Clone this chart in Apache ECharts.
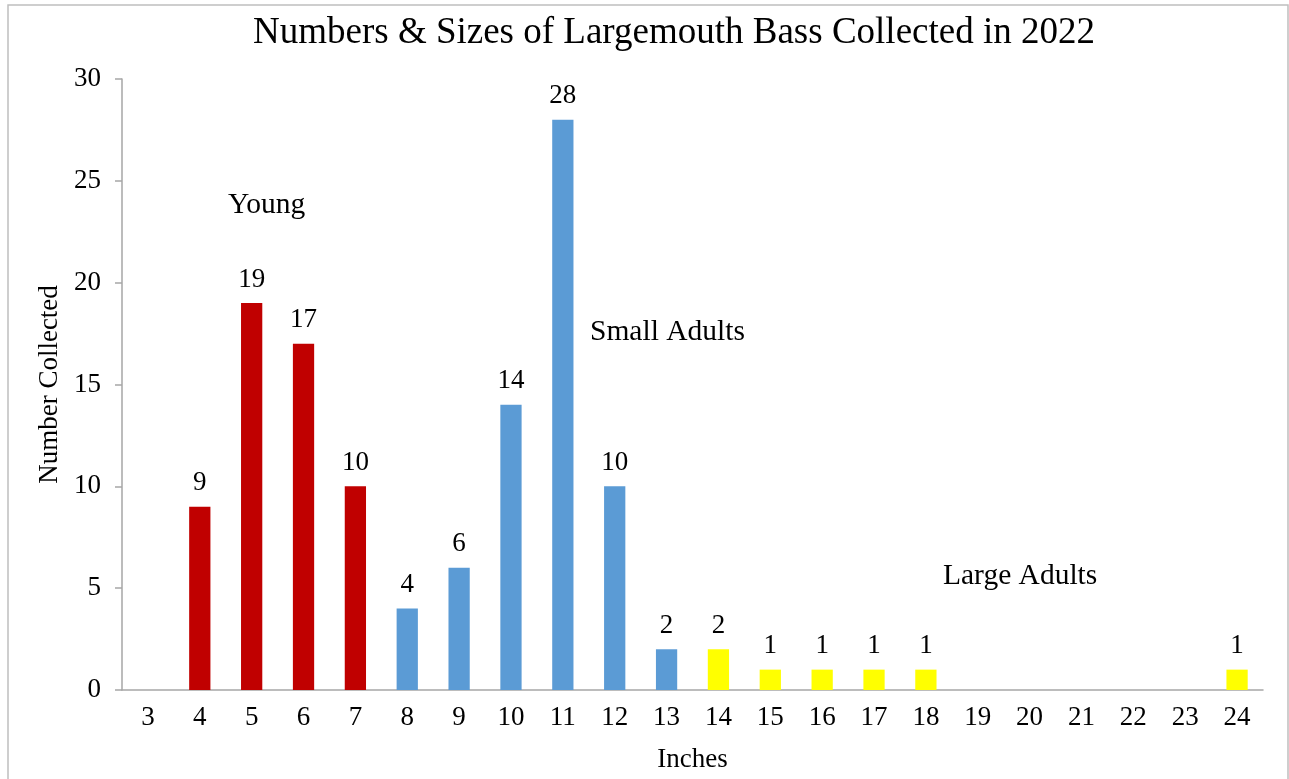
<!DOCTYPE html>
<html>
<head>
<meta charset="utf-8">
<script src="https://cdn.jsdelivr.net/npm/echarts@6/dist/echarts.min.js"></script>
<style>
  html, body { margin: 0; padding: 0; background: #fff; }
  #chart { width: 1289px; height: 779px; }
</style>
</head>
<body>
<div id="chart"></div>
<script>
const inches = ['3', '4', '5', '6', '7', '8', '9', '10', '11', '12', '13', '14', '15', '16', '17', '18', '19', '20', '21', '22', '23', '24']
const counts = [0, 9, 19, 17, 10, 4, 6, 14, 28, 10, 2, 2, 1, 1, 1, 1, 0, 0, 0, 0, 0, 1]
// size group per inch class: young, small adults, large adults
const groups = ['y', 'y', 'y', 'y', 'y', 's', 's', 's', 's', 's', 's', 'l', 'l', 'l', 'l', 'l', 'l', 'l', 'l', 'l', 'l', 'l']
const groupColor = { y: '#C00000', s: '#5B9BD5', l: '#FFFF00' }

const serif = '"Liberation Serif", "Times New Roman", serif'
const axisGray = '#a6a6a6'

const chart = echarts.init(document.getElementById('chart'))

chart.setOption({
  animation: false,
  textStyle: { fontFamily: serif, color: '#000' },
  title: {
    text: 'Numbers & Sizes of Largemouth Bass Collected in 2022',
    left: 248,
    top: 10,
    textStyle: { fontFamily: serif, fontSize: 37, fontWeight: 'normal', color: '#000' }
  },
  grid: { left: 122, right: 26, top: 79, bottom: 89 },
  xAxis: {
    type: 'category',
    data: inches,
    name: 'Inches',
    nameLocation: 'middle',
    nameGap: 56,
    nameTextStyle: { fontFamily: serif, fontSize: 27, color: '#000' },
    axisLine: { lineStyle: { color: axisGray, width: 1.5 } },
    axisTick: { length: 8, lineStyle: { color: axisGray, width: 1.5 } },
    axisLabel: { fontFamily: serif, fontSize: 27, color: '#000', margin: 14 }
  },
  yAxis: {
    type: 'value',
    min: 0,
    max: 30,
    interval: 5,
    name: 'Number Collected',
    nameLocation: 'middle',
    nameGap: 57,
    nameTextStyle: { fontFamily: serif, fontSize: 27, color: '#000' },
    axisLine: { show: true, lineStyle: { color: axisGray, width: 1.5 } },
    axisTick: { show: true, length: 7, lineStyle: { color: axisGray, width: 1.5 } },
    splitLine: { show: false },
    axisLabel: { fontFamily: serif, fontSize: 27, color: '#000', margin: 21 }
  },
  series: [{
    type: 'bar',
    barWidth: '41%',
    data: counts.map((v, i) => ({ value: v, itemStyle: { color: groupColor[groups[i]] } })),
    label: {
      show: true,
      position: 'top',
      distance: 10,
      fontFamily: serif,
      fontSize: 27,
      color: '#000',
      formatter: p => (p.value ? p.value : '')
    }
  }],
  graphic: [
    {
      type: 'rect',
      silent: true,
      shape: { x: 8, y: 5, width: 1280, height: 790 },
      style: { fill: 'none', stroke: '#bfbfbf', lineWidth: 1.5 }
    },
    {
      type: 'text', left: 228, top: 190,
      style: { text: 'Young', font: '29.5px ' + serif, fill: '#000' }
    },
    {
      type: 'text', left: 590, top: 317,
      style: { text: 'Small Adults', font: '29.5px ' + serif, fill: '#000' }
    },
    {
      type: 'text', left: 943, top: 561,
      style: { text: 'Large Adults', font: '29.5px ' + serif, fill: '#000' }
    }
  ]
})

window.addEventListener('resize', () => chart.resize())
</script>
</body>
</html>
